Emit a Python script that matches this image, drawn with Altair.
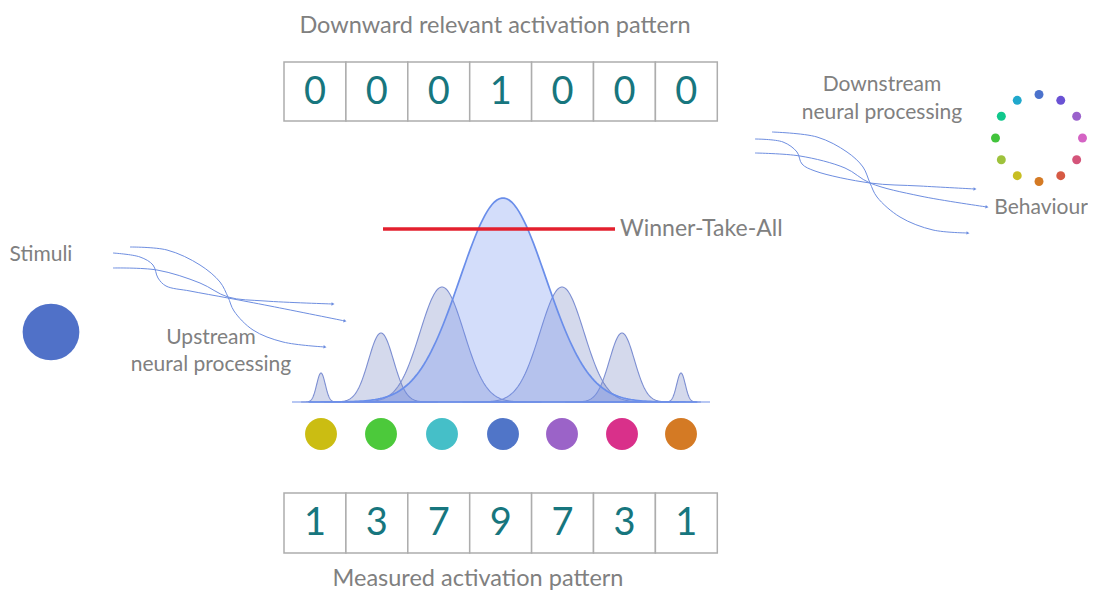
import math
import altair as alt
import numpy as np
import pandas as pd

# ---------------- data ----------------
top_values = [0, 0, 0, 1, 0, 0, 0]
bottom_values = [1, 3, 7, 9, 7, 3, 1]
unit_colors = ["#CBBD12", "#4CC93B", "#45BFC8", "#5075C8", "#9B63C8", "#D9308A", "#D47A24"]

# tuning curves: centre, peak height (px), width (px)
peak_centers = [321, 381, 442, 503, 562, 622, 681]
peak_heights = [29, 69, 115, 204, 115, 69, 29]
peak_widths = [4.3, 12.5, 22, 43, 22, 12.5, 4.3]

ring_colors = ["#4B72CC", "#6A52D4", "#9B62CC", "#D463C4", "#D4547A", "#D65A44",
               "#D47A24", "#C8BE22", "#9EC23C", "#42C43C", "#10C88C", "#20A8CC"]

left_curves = {
    "A": [(130, 247), (167, 250), (200, 265), (220, 282), (228, 297), (234, 311), (253, 330), (283, 342), (325, 347)],
    "B": [(113, 253), (140, 257), (153, 265), (158, 278), (166, 286), (190, 291), (228, 298), (270, 306), (345, 321)],
    "C": [(113, 268), (157, 270), (200, 283), (228, 297), (265, 301), (333, 304)],
}
right_curves = {
    "A": [(772, 132), (817, 137), (847, 152), (863, 167), (870, 183), (877, 197), (900, 217), (933, 230), (968, 233)],
    "B": [(755, 139), (783, 142), (797, 152), (802, 164), (815, 171), (870, 183), (920, 186), (975, 189)],
    "C": [(755, 153), (800, 156), (845, 168), (870, 183), (920, 196), (987, 207)],
}

# ---------------- layout ----------------
W, H = 1080, 583
xs = alt.Scale(domain=[8, 1088], range=[0, W], nice=False, zero=False)
ys = alt.Scale(domain=[8, 591], range=[0, H], nice=False, zero=False)

cell_x0, cell_w = 284, 61.9
top_y = (62, 121)
bot_y = (493, 553)
baseline = 402
circle_y = 434
TEXT_GREY = "#808080"
FONT = "Lato"


def X(f="x"):
    return alt.X(f"{f}:Q", scale=xs, axis=None)


def Y(f="y"):
    return alt.Y(f"{f}:Q", scale=ys, axis=None)


# cells
cells = []
for i in range(7):
    for (y1, y2), vals in [(top_y, top_values), (bot_y, bottom_values)]:
        cells.append(dict(x1=cell_x0 + i * cell_w, x2=cell_x0 + (i + 1) * cell_w,
                          y1=y1, y2=y2, xc=cell_x0 + (i + 0.5) * cell_w,
                          yc=(y1 + y2) / 2 + 1, label=str(vals[i])))
cells_df = pd.DataFrame(cells)

rects = alt.Chart(cells_df).mark_rect(fill="white", stroke="#ADADAD", strokeWidth=1.5).encode(
    x=X("x1"), x2="x2:Q", y=Y("y1"), y2="y2:Q")
digits = alt.Chart(cells_df).mark_text(font=FONT, fontSize=38, color="#17767E",
                                       baseline="middle", align="center").encode(
    x=X("xc"), y=Y("yc"), text="label:N")

# tuning curves
rows = []
for k, (c, h, s) in enumerate(zip(peak_centers, peak_heights, peak_widths)):
    lo, hi = max(292, c - 4.5 * s), min(710, c + 4.5 * s)
    for xv in np.linspace(lo, hi, 160):
        rows.append(dict(peak=k, x=xv, y=baseline - h * math.exp(-0.5 * ((xv - c) / s) ** 2), y2=baseline))
g = pd.DataFrame(rows)
side = alt.Chart(g[g.peak != 3]).mark_area(color="#7080C0", fillOpacity=0.3, stroke="#7D8FD2",
                                            strokeWidth=1.1).encode(
    x=X(), y=Y(), y2="y2:Q", detail="peak:N")
centre = alt.Chart(g[g.peak == 3]).mark_area(color="#6E90F0", fillOpacity=0.3, stroke="#6A8EEA",
                                              strokeWidth=1.7).encode(
    x=X(), y=Y(), y2="y2:Q")
base_line = alt.Chart(pd.DataFrame(dict(x=[292], x2=[710], y=[baseline]))).mark_rule(
    color="#7090E8", strokeWidth=1.2).encode(x=X(), x2="x2:Q", y=Y())

# winner-take-all threshold
wta = alt.Chart(pd.DataFrame(dict(x=[383], x2=[615], y=[229]))).mark_rule(
    color="#E3202E", strokeWidth=3.5).encode(x=X(), x2="x2:Q", y=Y())

# unit circles
units_df = pd.DataFrame(dict(x=list(peak_centers), y=[circle_y] * 7, col=unit_colors))
units = alt.Chart(units_df).mark_circle(size=1018, opacity=1).encode(
    x=X(), y=Y(), color=alt.Color("col:N", scale=None))

# stimulus
stim = alt.Chart(pd.DataFrame(dict(x=[51], y=[332]))).mark_circle(size=3217, opacity=1, color="#5071C8").encode(
    x=X(), y=Y())

# ring of behaviour dots
ring_cx, ring_cy, ring_r = 1039, 138, 43.5
ring_df = pd.DataFrame(dict(
    x=[ring_cx + ring_r * math.sin(math.radians(30 * i)) for i in range(12)],
    y=[ring_cy - ring_r * math.cos(math.radians(30 * i)) for i in range(12)],
    col=ring_colors))
ring = alt.Chart(ring_df).mark_circle(size=80, opacity=1).encode(
    x=X(), y=Y(), color=alt.Color("col:N", scale=None))

# connection curves
crow, arrows = [], []
for side_name, curves in [("L", left_curves), ("R", right_curves)]:
    for name, pts in curves.items():
        for j, (px, py) in enumerate(pts):
            crow.append(dict(line=side_name + name, order=j, x=px, y=py))
        (ax, ay), (bx, by) = pts[-2], pts[-1]
        ang = math.degrees(math.atan2(by - ay, bx - ax)) % 360
        arrows.append(dict(x=bx, y=by, angle=ang))
curves_df = pd.DataFrame(crow)
conn = alt.Chart(curves_df).mark_line(color="#6E8EE0", strokeWidth=1.0, interpolate="catmull-rom").encode(
    x=X(), y=Y(), detail="line:N", order="order:Q")
heads = alt.Chart(pd.DataFrame(arrows)).mark_point(shape="triangle-right", filled=True, size=12,
                                                     color="#6E8EE0", opacity=1).encode(
    x=X(), y=Y(), angle=alt.Angle("angle:Q", scale=None))

# texts
titles_df = pd.DataFrame(dict(
    x=[495, 478], y=[26, 579],
    text=["Downward relevant activation pattern", "Measured activation pattern"]))
titles = alt.Chart(titles_df).mark_text(font=FONT, fontSize=23.5, color=TEXT_GREY,
                                        baseline="middle", align="center").encode(
    x=X(), y=Y(), text="text:N")

labels_df = pd.DataFrame(dict(
    x=[41, 211, 211, 882, 882, 1041],
    y=[255, 338, 365, 85, 113, 208],
    text=["Stimuli", "Upstream", "neural processing", "Downstream", "neural processing", "Behaviour"]))
labels = alt.Chart(labels_df).mark_text(font=FONT, fontSize=21, color=TEXT_GREY,
                                        baseline="middle", align="center").encode(
    x=X(), y=Y(), text="text:N")

wta_label = alt.Chart(pd.DataFrame(dict(x=[620], y=[229], text=["Winner-Take-All"]))).mark_text(
    font=FONT, fontSize=23, color=TEXT_GREY, baseline="middle", align="left").encode(
    x=X(), y=Y(), text="text:N")

chart = alt.layer(
    conn, heads, side, centre, base_line, wta, units, stim, ring,
    rects, digits, titles, labels, wta_label
).properties(
    width=W, height=H, padding=0, background="white",
    autosize=alt.AutoSizeParams(type="none")
).configure_view(stroke=None)

chart.save("out.html", embed_options={"renderer": "svg", "actions": False})
